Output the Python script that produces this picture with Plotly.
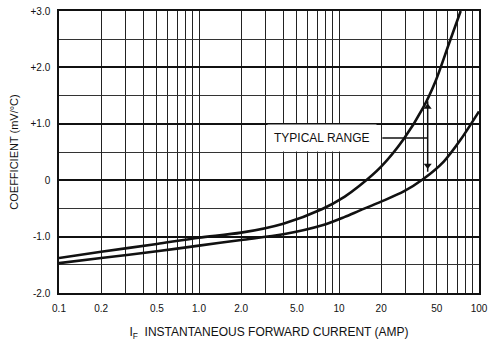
import math
import plotly.graph_objects as go

# ---- data ----
upper_x = [0.1, 0.2, 0.5, 1.0, 2.0, 4.0, 7.6, 11, 14, 20, 29, 40, 49, 61, 74]
upper_y = [-1.38, -1.27, -1.13, -1.02, -0.93, -0.77, -0.51, -0.29, -0.10, 0.24, 0.73, 1.29, 1.76, 2.42, 3.0]

lower_x = [0.1, 0.2, 0.5, 1.0, 2.0, 4.0, 7.6, 11, 14, 20, 29, 40, 56, 74, 100]
lower_y = [-1.47, -1.38, -1.26, -1.16, -1.06, -0.96, -0.80, -0.65, -0.54, -0.38, -0.20, 0.02, 0.33, 0.72, 1.22]

x_label_vals = [0.1, 0.2, 0.5, 1, 2, 5, 10, 20, 50, 100]
x_label_text = ["0.1", "0.2", "0.5", "1.0", "2.0", "5.0", "10", "20", "50", "100"]
x_minor_vals = [0.3, 0.4, 0.6, 0.7, 0.8, 0.9, 3, 4, 6, 7, 8, 9, 30, 40, 60, 70, 80, 90]
y_ticks = [-2, -1, 0, 1, 2, 3]
y_labels = ["-2.0", "-1.0", "0", "+1.0", "+2.0", "+3.0"]

range_label = "TYPICAL RANGE"
range_x = 43          # current at which the typical range bracket is drawn
range_top = 1.40
range_bottom = 0.15
arrow_up_y = 1.30
arrow_down_y = 0.26
label_y = 0.75
label_line_start = 20.4
label_x = 7.6

FONT = "Liberation Sans, Arial, sans-serif"
INK = "#111111"

fig = go.Figure()

for xs, ys in ((upper_x, upper_y), (lower_x, lower_y)):
    fig.add_trace(go.Scatter(x=xs, y=ys, mode="lines",
                             line=dict(color=INK, width=2.6, shape="spline", smoothing=0.8),
                             showlegend=False, hoverinfo="skip"))

# bracket lines for the "typical range" callout
fig.add_trace(go.Scatter(x=[label_line_start, range_x, None, range_x, range_x],
                         y=[label_y, label_y, None, range_top, range_bottom],
                         mode="lines", line=dict(color=INK, width=1.5),
                         showlegend=False, hoverinfo="skip"))
fig.add_trace(go.Scatter(x=[range_x, range_x], y=[arrow_up_y, arrow_down_y],
                         mode="markers",
                         marker=dict(symbol=["triangle-up", "triangle-down"], size=7, color=INK),
                         showlegend=False, hoverinfo="skip"))

fig.add_annotation(x=math.log10(label_x), y=label_y, xref="x", yref="y",
                   text=range_label, showarrow=False, bgcolor="white",
                   borderpad=6, font=dict(family=FONT, size=12, color=INK))

fig.update_layout(
    width=491, height=349,
    margin=dict(l=59, r=12, t=11, b=56),
    paper_bgcolor="white", plot_bgcolor="white",
    font=dict(family=FONT, size=10, color=INK),
    xaxis=dict(
        type="log", range=[-1, 2], automargin=False,
        tickmode="array", tickvals=x_label_vals, ticktext=x_label_text,
        showgrid=True, gridcolor="#222222", gridwidth=1,
        minor=dict(tickvals=x_minor_vals, showgrid=True, gridcolor="#222222",
                   gridwidth=1, ticks=""),
        showline=True, linecolor=INK, linewidth=1.5, mirror=True,
        ticks="", ticklabelstandoff=5,
        tickfont=dict(size=10),
        title=dict(text="I<sub>F</sub>  INSTANTANEOUS FORWARD CURRENT (AMP)",
                   font=dict(size=12), standoff=15),
        zeroline=False,
    ),
    yaxis=dict(
        range=[-2, 3], automargin=False,
        tickmode="array", tickvals=y_ticks, ticktext=y_labels,
        showgrid=True, gridcolor="#111111", gridwidth=2,
        minor=dict(dtick=0.5, showgrid=True, gridcolor="#333333", gridwidth=1, ticks=""),
        showline=True, linecolor=INK, linewidth=1.5, mirror=True,
        ticks="", ticklabelstandoff=5,
        tickfont=dict(size=10),
        title=dict(text="COEFFICIENT (mV/°C)", font=dict(size=11), standoff=10),
        zeroline=False,
    ),
)

fig.write_html("out.html", config={"displayModeBar": False},
               post_script="document.body.style.margin='0px';")
